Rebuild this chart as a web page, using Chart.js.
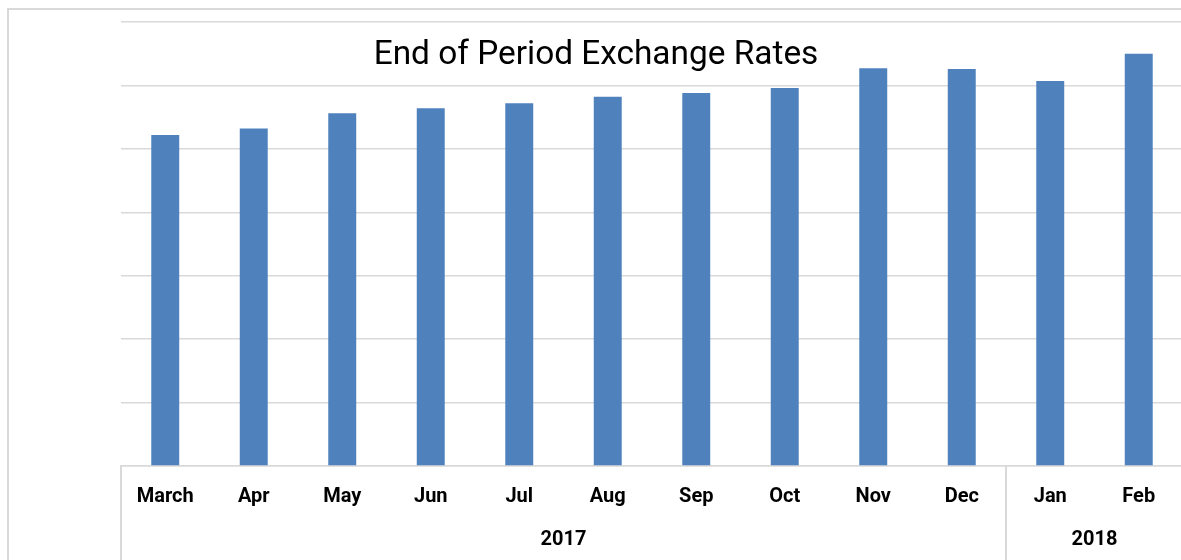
<!DOCTYPE html>
<html>
<head>
<meta charset="utf-8">
<script src="https://cdn.jsdelivr.net/npm/chart.js@4/dist/chart.umd.min.js"></script>
<style>
    html, body { margin: 0; padding: 0; background: #fff; overflow: hidden; }
    #wrap { position: relative; width: 1181px; height: 560px; overflow: hidden; }
    #frame { position: absolute; left: 7px; top: 8px; width: 1200px; height: 600px; border: 2px solid #d9d9d9; box-sizing: border-box; }
    #box { position: absolute; left: 0; top: 0; width: 1195px; height: 560px; }
    #title { position: absolute; left: 0; width: 1192px; top: 36px; text-align: center; font: 33.4px/33.4px Roboto, "DejaVu Sans Condensed", sans-serif; color: #000; }
</style>
</head>
<body>
<div id="wrap">
    <div id="frame"></div>
    <div id="box"><canvas id="rates"></canvas></div>
    <div id="title">End of Period Exchange Rates</div>
</div>
<script>
var monthLabels = ["March", "Apr", "May", "Jun", "Jul", "Aug", "Sep", "Oct", "Nov", "Dec", "Jan", "Feb"];
var rateValues = [5.22, 5.32, 5.56, 5.64, 5.72, 5.82, 5.88, 5.96, 6.27, 6.26, 6.07, 6.50];
var yearLabels = ["2017", "2018"];
var yearSpans = [10, 2];

var labelFont = { family: 'Roboto, "DejaVu Sans Condensed", sans-serif', size: 20, weight: "bold" };

// centre of each year group, in category units
var yearCenters = [];
var start = 0;
yearSpans.forEach(function (n) {
    yearCenters.push(start + n / 2);
    start += n;
});

// vertical separators under the axis, at the year boundaries
var groupLines = {
    id: "groupLines",
    afterDraw: function (chart) {
        var x = chart.scales.x;
        var ctx = chart.ctx;
        var step = x.getPixelForValue(1) - x.getPixelForValue(0);
        var edges = [0];
        var acc = 0;
        yearSpans.forEach(function (n) { acc += n; edges.push(acc); });
        ctx.save();
        ctx.strokeStyle = "#d9d9d9";
        ctx.lineWidth = 2;
        edges.forEach(function (e) {
            var px = Math.round(x.getPixelForValue(0) - step / 2 + e * step);
            ctx.beginPath();
            ctx.moveTo(px, x.top);
            ctx.lineTo(px, chart.height);
            ctx.stroke();
        });
        ctx.restore();
    }
};

var chart = new Chart(document.getElementById("rates").getContext("2d"), {
    type: "bar",
    data: {
        labels: monthLabels,
        datasets: [{
            label: "End of Period Exchange Rates",
            data: rateValues,
            backgroundColor: "#4f81bd",
            borderWidth: 0,
            barPercentage: 0.316,
            categoryPercentage: 1,
            xAxisID: "x"
        }]
    },
    options: {
        responsive: true,
        maintainAspectRatio: false,
        animation: false,
        events: [],
        layout: { padding: { left: 121, top: 22, right: 12, bottom: 7.4 } },
        plugins: {
            legend: { display: false },
            tooltip: { enabled: false },
            title: { display: false }
        },
        scales: {
            x: {
                type: "category",
                position: "bottom",
                grid: { display: false, drawTicks: false },
                border: { display: true, color: "#d9d9d9", width: 1.5 },
                ticks: { color: "#000", font: labelFont, padding: 18.7, maxRotation: 0, autoSkip: false }
            },
            years: {
                type: "linear",
                axis: "x",
                position: "bottom",
                min: 0,
                max: monthLabels.length,
                offset: false,
                grid: { display: false, drawTicks: false, offset: false },
                border: { display: false },
                afterBuildTicks: function (axis) {
                    axis.ticks = yearCenters.map(function (v) { return { value: v }; });
                },
                ticks: {
                    color: "#000",
                    font: labelFont,
                    padding: 0.6,
                    maxRotation: 0,
                    autoSkip: false,
                    callback: function (value) {
                        var i = yearCenters.indexOf(value);
                        return i >= 0 ? yearLabels[i] : "";
                    }
                }
            },
            y: {
                min: 0,
                max: 7,
                ticks: { display: false, stepSize: 1 },
                grid: { color: "#d9d9d9", lineWidth: 1.5, drawTicks: false },
                border: { display: false }
            }
        }
    },
    plugins: [groupLines]
});
</script>
</body>
</html>
